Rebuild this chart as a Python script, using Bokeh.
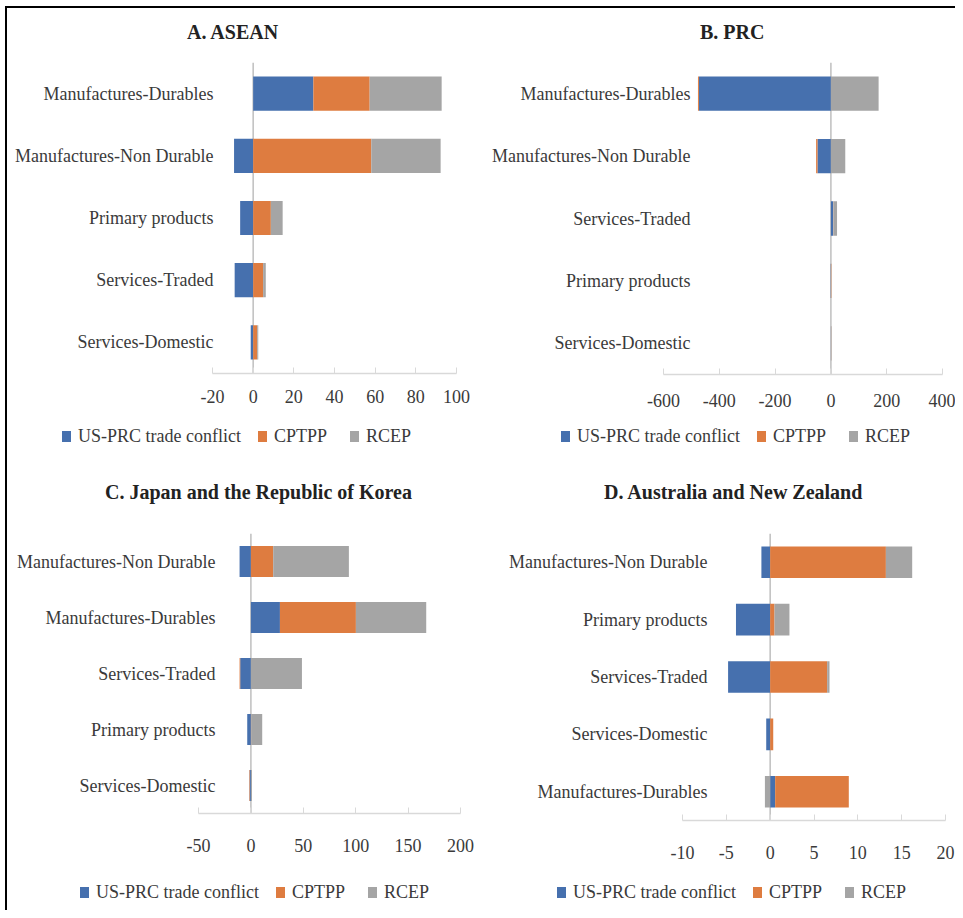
import numpy as np
from bokeh.plotting import figure
from bokeh.models import (Range1d, FactorRange, Span, Div,
                          FixedTicker, CustomJSTickFormatter)
from bokeh.layouts import column, row
from bokeh.embed import file_html
from bokeh.resources import INLINE

# ---------------- data ----------------
SERIES = ["US-PRC trade conflict", "CPTPP", "RCEP"]

A_title = "A. ASEAN"
A_cats = ["Manufactures-Durables", "Manufactures-Non Durable", "Primary products",
          "Services-Traded", "Services-Domestic"]
A_us = [29.6, -9.4, -6.4, -9.1, -1.2]
A_cptpp = [27.7, 58.1, 8.7, 4.9, 2.0]
A_rcep = [35.4, 34.1, 5.8, 1.3, 0.5]
A_ticks = [-20, 0, 20, 40, 60, 80, 100]

B_title = "B. PRC"
B_cats = ["Manufactures-Durables", "Manufactures-Non Durable", "Services-Traded",
          "Primary products", "Services-Domestic"]
B_us = [-473, -48, 8, -1.0, 0.3]
B_cptpp = [-3.5, -5, 1, 1.5, 0.5]
B_rcep = [171, 51.5, 13, 0.5, 1.5]
B_ticks = [-600, -400, -200, 0, 200, 400]

C_title = "C. Japan and the Republic of Korea"
C_cats = ["Manufactures-Non Durable", "Manufactures-Durables", "Services-Traded",
          "Primary products", "Services-Domestic"]
C_us = [-10.8, 27.7, -10.2, -3.5, -1.2]
C_cptpp = [21.3, 72.5, -0.6, 0.3, -0.5]
C_rcep = [72.2, 67.1, 48.7, 10.5, 1.0]
C_ticks = [-50, 0, 50, 100, 150, 200]

D_title = "D. Australia and New Zealand"
D_cats = ["Manufactures-Non Durable", "Primary products", "Services-Traded",
          "Services-Domestic", "Manufactures-Durables"]
D_us = [-1.0, -3.9, -4.8, -0.45, 0.57]
D_cptpp = [13.2, 0.5, 6.5, 0.35, 8.4]
D_rcep = [3.0, 1.7, 0.27, 0.0, -0.6]
D_ticks = [-10, -5, 0, 5, 10, 15, 20]

# ---------------- style ----------------
COLORS = ["#4670AE", "#DE7C40", "#A5A5A5"]
LEG_GAPS = [17, 23, 0]
FONT = "Liberation Serif"
TXT = "#3a3a3a"
AXIS = "#D9D9D9"
ZERO = "#BFBFBF"
LEG_H = 45


def title_div(W, TH, text, tx, ty):
    html = (f'<div style="position:relative;width:{W}px;height:{TH}px;">'
            f'<div style="position:absolute;left:{tx}px;top:{ty}px;'
            f"font-family:'{FONT}';font-size:20px;font-weight:bold;"
            f'line-height:24px;color:#222222;white-space:nowrap;">{text}</div></div>')
    return Div(text=html, width=W, height=TH, margin=0)


def legend_div(W, lx, ly):
    items = ""
    for name, color, gap in zip(SERIES, COLORS, LEG_GAPS):
        items += ('<span style="display:inline-block;width:9px;height:11px;'
                  f'background:{color};margin-right:7px;"></span>'
                  f'<span style="margin-right:{gap}px;">{name}</span>')
    html = (f'<div style="position:relative;width:{W}px;height:{LEG_H}px;'
            f"font-family:'{FONT}';font-size:18px;line-height:21px;color:{TXT};\">"
            f'<div style="position:absolute;left:{lx}px;top:{ly}px;display:flex;'
            f'align-items:center;white-space:nowrap;">{items}</div></div>')
    return Div(text=html, width=W, height=LEG_H, margin=0)


def make_panel(title, cats, vals, ticks, W, TH, H, fl, fw, ft, fh,
               title_xy, lab_standoff, tick_standoff, leg_xy):
    p = figure(width=W, height=H, output_backend="svg", toolbar_location=None,
               title=None,
               x_range=Range1d(ticks[0], ticks[-1]),
               y_range=FactorRange(factors=cats[::-1]),
               min_border_left=fl, min_border_right=W - fl - fw,
               min_border_top=ft, min_border_bottom=H - ft - fh)
    p.outline_line_color = None
    p.xgrid.visible = False
    p.ygrid.visible = False
    p.background_fill_color = "white"
    p.border_fill_color = "white"

    p.add_layout(Span(location=0, dimension="height", line_color=ZERO,
                      line_width=1.5, level="underlay"))

    n = len(cats)
    pos = np.zeros(n)
    neg = np.zeros(n)
    for name, v, color in zip(SERIES, vals, COLORS):
        v = np.asarray(v, dtype=float)
        left = np.where(v >= 0, pos, neg + v)
        right = np.where(v >= 0, pos + v, neg)
        pos = pos + np.where(v >= 0, v, 0)
        neg = neg + np.where(v < 0, v, 0)
        p.hbar(y=cats, left=left, right=right, height=0.55,
               fill_color=color, line_color=None)

    xa = p.xaxis[0]
    xa.ticker = FixedTicker(ticks=ticks)
    xa.formatter = CustomJSTickFormatter(code="return tick.toFixed(0)")
    xa.axis_line_color = AXIS
    xa.axis_line_width = 1.3
    xa.major_tick_line_color = AXIS
    xa.major_tick_in = 6
    xa.major_tick_out = 0
    xa.minor_tick_line_color = None
    xa.minor_tick_in = 0
    xa.minor_tick_out = 0
    xa.major_label_standoff = tick_standoff
    xa.major_label_text_font = FONT
    xa.major_label_text_font_size = "18px"
    xa.major_label_text_color = TXT

    ya = p.yaxis[0]
    ya.axis_line_color = None
    ya.major_tick_line_color = None
    ya.minor_tick_line_color = None
    ya.major_tick_in = 0
    ya.major_tick_out = 0
    ya.minor_tick_in = 0
    ya.minor_tick_out = 0
    ya.major_label_standoff = lab_standoff
    ya.major_label_text_font = FONT
    ya.major_label_text_font_size = "18px"
    ya.major_label_text_color = TXT

    return column(title_div(W, TH, title, *title_xy), p, legend_div(W, *leg_xy),
                  spacing=0)


pA = make_panel(A_title, A_cats, [A_us, A_cptpp, A_rcep], A_ticks,
                473, 40, 367, 205, 244, 14, 311, (180, 12), -1, 16, (55, 11))
pB = make_panel(B_title, B_cats, [B_us, B_cptpp, B_rcep], B_ticks,
                475, 40, 367, 183, 279, 14, 312, (220, 12), -27, 19, (81, 11))
pC = make_panel(C_title, C_cats, [C_us, C_cptpp, C_rcep], C_ticks,
                473, 50, 355, 191, 262, 23, 280, (98, 20), -17, 25, (73, 17))
pD = make_panel(D_title, D_cats, [D_us, D_cptpp, D_rcep], D_ticks,
                475, 50, 355, 202, 263, 23, 287, (124, 20), -25, 25, (77, 17))

layout = column(row(pA, pB, spacing=0), row(pC, pD, spacing=0), spacing=0,
                styles={"margin-left": "5px", "margin-top": "6px",
                        "border-top": "2px solid black",
                        "border-left": "2px solid black"})

open("out.html", "w").write(file_html(layout, INLINE))
